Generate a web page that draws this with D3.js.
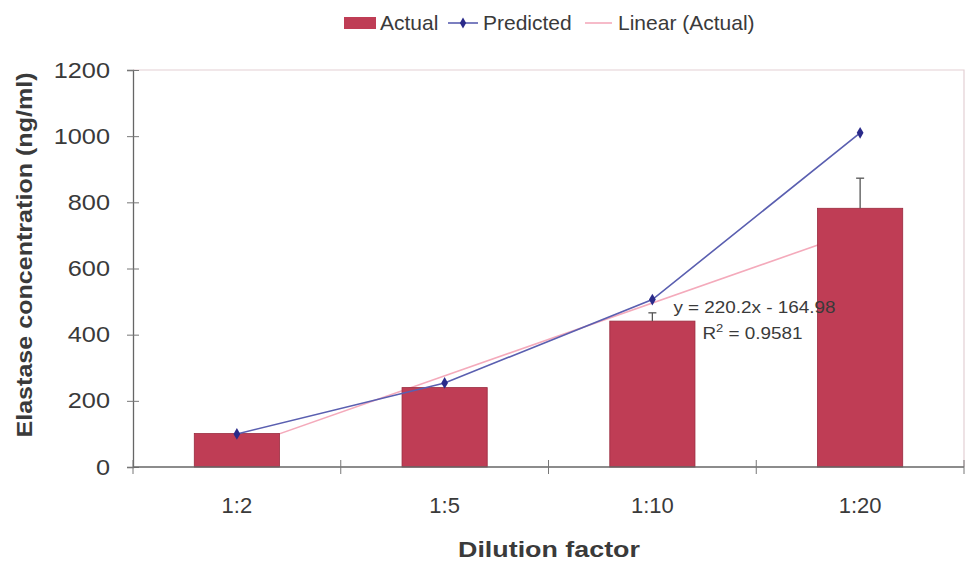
<!DOCTYPE html>
<html>
<head>
<meta charset="utf-8">
<script src="https://cdn.jsdelivr.net/npm/d3@7"></script>
<style>
  body { margin: 0; background: #fff; }
  text { font-family: Arial, "Liberation Sans", sans-serif; fill: #3a3a3a; }
</style>
</head>
<body>
<div id="chart"></div>
<script>
// data
const categories = ["1:2", "1:5", "1:10", "1:20"];
const actual = [101, 240, 441, 782];
const actualErr = [0, 0, 25, 91];
const predicted = [100, 254, 506, 1010];
const yTicks = [0, 200, 400, 600, 800, 1000, 1200];
// Excel linear trendline of Actual, x = 1..4
const trendSlope = 220.2, trendIntercept = -164.98;
const trendLabel = "y = 220.2x - 164.98";
const r2Label = "0.9581";

const width = 968, height = 564;
const margin = {top: 70, right: 4, bottom: 97, left: 133};

const svg = d3.select("#chart").append("svg")
    .attr("width", width)
    .attr("height", height);

const innerW = width - margin.left - margin.right;
const innerH = height - margin.top - margin.bottom;

// the scan is a little wider than tall, so widen text glyphs a bit
function stretch(sel, k) {
    sel.each(function() {
        const len = this.getComputedTextLength();
        d3.select(this).attr("textLength", len * k).attr("lengthAdjust", "spacingAndGlyphs");
    });
}

const g = svg.append("g")
    .attr("transform", `translate(${margin.left},${margin.top})`);

const x = d3.scaleBand().domain(categories).range([0, innerW]).paddingInner(0.59).paddingOuter(0.295);
const xPt = d3.scalePoint().domain(categories).range([0, innerW]).padding(0.5);
const y = d3.scaleLinear().domain([0, 1200]).range([innerH, 0]);

// plot frame (top / right)
g.append("path")
    .attr("d", `M0,0H${innerW}V${innerH}`)
    .attr("fill", "none")
    .attr("stroke", "#e3d0d4")
    .attr("stroke-width", 1.2);

// trendline (under the bars)
const tx = d3.scaleLinear().domain([1, 4]).range([xPt(categories[0]), xPt(categories[3])]);
g.append("line")
    .attr("x1", tx(1)).attr("y1", y(trendSlope * 1 + trendIntercept))
    .attr("x2", tx(4)).attr("y2", y(trendSlope * 4 + trendIntercept))
    .attr("stroke", "#f4aabb")
    .attr("stroke-width", 1.6);

// bars
g.append("g").selectAll("rect")
    .data(actual)
    .enter().append("rect")
    .attr("x", (d, i) => x(categories[i]))
    .attr("y", d => y(d))
    .attr("width", x.bandwidth())
    .attr("height", d => innerH - y(d))
    .attr("fill", "#bf3d55")
    .attr("stroke", "#9a2a3e")
    .attr("stroke-width", 0.8);

// error bars (upper only)
const err = g.append("g");
actual.forEach((d, i) => {
    if (!actualErr[i]) return;
    const cx = xPt(categories[i]);
    err.append("line").attr("x1", cx).attr("x2", cx)
        .attr("y1", y(d)).attr("y2", y(d + actualErr[i]))
        .attr("stroke", "#555").attr("stroke-width", 1.3);
    err.append("line").attr("x1", cx - 4).attr("x2", cx + 4)
        .attr("y1", y(d + actualErr[i])).attr("y2", y(d + actualErr[i]))
        .attr("stroke", "#555").attr("stroke-width", 1.3);
});

// predicted line
const line = d3.line().x((d, i) => xPt(categories[i])).y(d => y(d));
g.append("path")
    .datum(predicted)
    .attr("d", line)
    .attr("fill", "none")
    .attr("stroke", "#5a5fb0")
    .attr("stroke-width", 1.6);

const diamond = d3.symbol().type(d3.symbolDiamond).size(40);
g.append("g").selectAll("path")
    .data(predicted)
    .enter().append("path")
    .attr("d", diamond)
    .attr("transform", (d, i) => `translate(${xPt(categories[i])},${y(d)})`)
    .attr("fill", "#2a2a8a");

// y axis
const yAxis = g.append("g")
    .call(d3.axisLeft(y).tickValues(yTicks).tickFormat(d3.format("d")).tickSize(6).tickPadding(17));
yAxis.select(".domain").attr("stroke", "#666").attr("stroke-width", 1.3);
yAxis.selectAll(".tick line").attr("stroke", "#777").attr("x2", 6).attr("x1", -6);
yAxis.selectAll("text").attr("font-size", 22).attr("fill", "#3a3a3a").call(stretch, 1.15);

// x axis, ticks at category boundaries
const xAxis = g.append("g").attr("transform", `translate(0,${innerH})`);
xAxis.append("line")
    .attr("x1", 0).attr("x2", innerW)
    .attr("stroke", "#666").attr("stroke-width", 1.3);
xAxis.selectAll(".bound")
    .data(d3.range(categories.length + 1))
    .enter().append("line")
    .attr("x1", i => i * innerW / categories.length)
    .attr("x2", i => i * innerW / categories.length)
    .attr("y1", -7).attr("y2", 7)
    .attr("stroke", "#777");
xAxis.selectAll(".lab")
    .data(categories)
    .enter().append("text")
    .attr("x", d => xPt(d))
    .attr("y", 46)
    .attr("text-anchor", "middle")
    .attr("font-size", 22)
    .text(d => d);

// axis titles
svg.append("text")
    .attr("transform", "translate(32,255) rotate(-90)")
    .attr("text-anchor", "middle")
    .attr("font-size", 22)
    .attr("font-weight", "bold")
    .text("Elastase concentration (ng/ml)")
    .call(stretch, 1.14);

svg.append("text")
    .attr("x", 549)
    .attr("y", 557)
    .attr("text-anchor", "middle")
    .attr("font-size", 22)
    .attr("font-weight", "bold")
    .text("Dilution factor")
    .call(stretch, 1.22);

// trendline equation
const eqX = xPt(categories[2]) + 21;
const eqY = y(trendSlope * 3 + trendIntercept);
g.append("text")
    .attr("x", eqX)
    .attr("y", eqY + 10)
    .attr("font-size", 16)
    .text(trendLabel)
    .call(stretch, 1.18);
const r2 = g.append("text")
    .attr("x", eqX + 29)
    .attr("y", eqY + 36)
    .attr("font-size", 16);
r2.append("tspan").text("R");
r2.append("tspan").attr("dy", -7).attr("font-size", 11).text("2");
r2.append("tspan").attr("dy", 7).text(" = " + r2Label);
r2.call(stretch, 1.18);

// legend
const leg = svg.append("g").attr("transform", "translate(0,23)");
leg.append("rect").attr("x", 344).attr("y", -6).attr("width", 32).attr("height", 12).attr("fill", "#bf3d55");
leg.append("text").attr("x", 380).attr("y", 7).attr("font-size", 21).text("Actual");
leg.append("line").attr("x1", 448).attr("x2", 478).attr("stroke", "#5a5fb0").attr("stroke-width", 1.6);
leg.append("path").attr("d", d3.symbol().type(d3.symbolDiamond).size(34)).attr("transform", "translate(463,0)").attr("fill", "#2a2a8a");
leg.append("text").attr("x", 483).attr("y", 7).attr("font-size", 21).text("Predicted");
leg.append("line").attr("x1", 585).attr("x2", 612).attr("stroke", "#f4aabb").attr("stroke-width", 1.6);
leg.append("text").attr("x", 618).attr("y", 7).attr("font-size", 21).text("Linear (Actual)");
</script>
</body>
</html>
